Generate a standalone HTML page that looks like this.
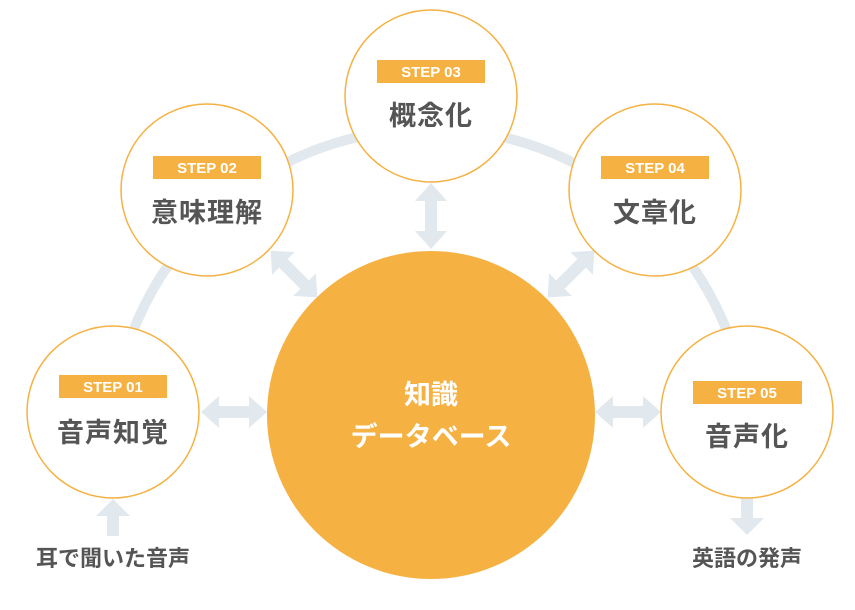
<!DOCTYPE html>
<html><head><meta charset="utf-8"><style>
html,body{margin:0;padding:0;background:#fff;}
svg{display:block;}
text{font-family:"Liberation Sans","Noto Sans CJK JP",sans-serif;font-weight:bold;}
</style></head><body>
<svg width="855" height="610" viewBox="0 0 855 610" xmlns="http://www.w3.org/2000/svg">
<defs>
<g id="dar">
<polygon points="-33,0 -15,-16 -15,-6 15,-6 15,-16 33,0 15,16 15,6 -15,6 -15,16" fill="#e1e9ef"/>
</g>
</defs>
<path d="M113,412 A319,319 0 0 1 747,412" fill="none" stroke="#e1e9ef" stroke-width="10"/>
<use href="#dar" transform="translate(234,412)"/>
<use href="#dar" transform="translate(628,412)"/>
<use href="#dar" transform="translate(431,216) rotate(90)"/>
<use href="#dar" transform="translate(294,274) rotate(45)"/>
<use href="#dar" transform="translate(571,274) rotate(-45)"/>
<polygon points="113,499 130,516 119,516 119,536 107,536 107,516 96,516" fill="#e1e9ef"/>
<polygon points="747,535 764,518 753,518 753,498 741,498 741,518 730,518" fill="#e1e9ef"/>
<circle cx="431" cy="415" r="164" fill="#f5b243"/>
<text x="431" y="404" font-size="27" fill="#fff" text-anchor="middle">知識</text>
<text x="431" y="446" font-size="27" fill="#fff" text-anchor="middle">データベース</text>
<g>
<circle cx="113" cy="412" r="86" fill="#fff" stroke="#f5b243" stroke-width="1.5"/>
<rect x="59" y="375" width="108" height="23" fill="#f5b243"/>
<text x="113" y="392" font-size="15" fill="#fff" text-anchor="middle">STEP 01</text>
<text x="113" y="442" font-size="27" fill="#555" text-anchor="middle" letter-spacing="1">音声知覚</text>
</g>
<g>
<circle cx="207" cy="190" r="86" fill="#fff" stroke="#f5b243" stroke-width="1.5"/>
<rect x="153" y="156" width="108" height="23" fill="#f5b243"/>
<text x="207" y="173" font-size="15" fill="#fff" text-anchor="middle">STEP 02</text>
<text x="207" y="222" font-size="27" fill="#555" text-anchor="middle" letter-spacing="1">意味理解</text>
</g>
<g>
<circle cx="431" cy="96" r="86" fill="#fff" stroke="#f5b243" stroke-width="1.5"/>
<rect x="377" y="60" width="108" height="23" fill="#f5b243"/>
<text x="431" y="77" font-size="15" fill="#fff" text-anchor="middle">STEP 03</text>
<text x="431" y="125" font-size="27" fill="#555" text-anchor="middle" letter-spacing="1">概念化</text>
</g>
<g>
<circle cx="655" cy="190" r="86" fill="#fff" stroke="#f5b243" stroke-width="1.5"/>
<rect x="601" y="156" width="108" height="23" fill="#f5b243"/>
<text x="655" y="173" font-size="15" fill="#fff" text-anchor="middle">STEP 04</text>
<text x="655" y="222" font-size="27" fill="#555" text-anchor="middle" letter-spacing="1">文章化</text>
</g>
<g>
<circle cx="747" cy="412" r="86" fill="#fff" stroke="#f5b243" stroke-width="1.5"/>
<rect x="693" y="381" width="109" height="23" fill="#f5b243"/>
<text x="747" y="398" font-size="15" fill="#fff" text-anchor="middle">STEP 05</text>
<text x="747" y="446" font-size="27" fill="#555" text-anchor="middle" letter-spacing="1">音声化</text>
</g>
<text x="113" y="566" font-size="22" fill="#555" text-anchor="middle">耳で聞いた音声</text>
<text x="747" y="566" font-size="22" fill="#555" text-anchor="middle">英語の発声</text>
</svg>
</body></html>
